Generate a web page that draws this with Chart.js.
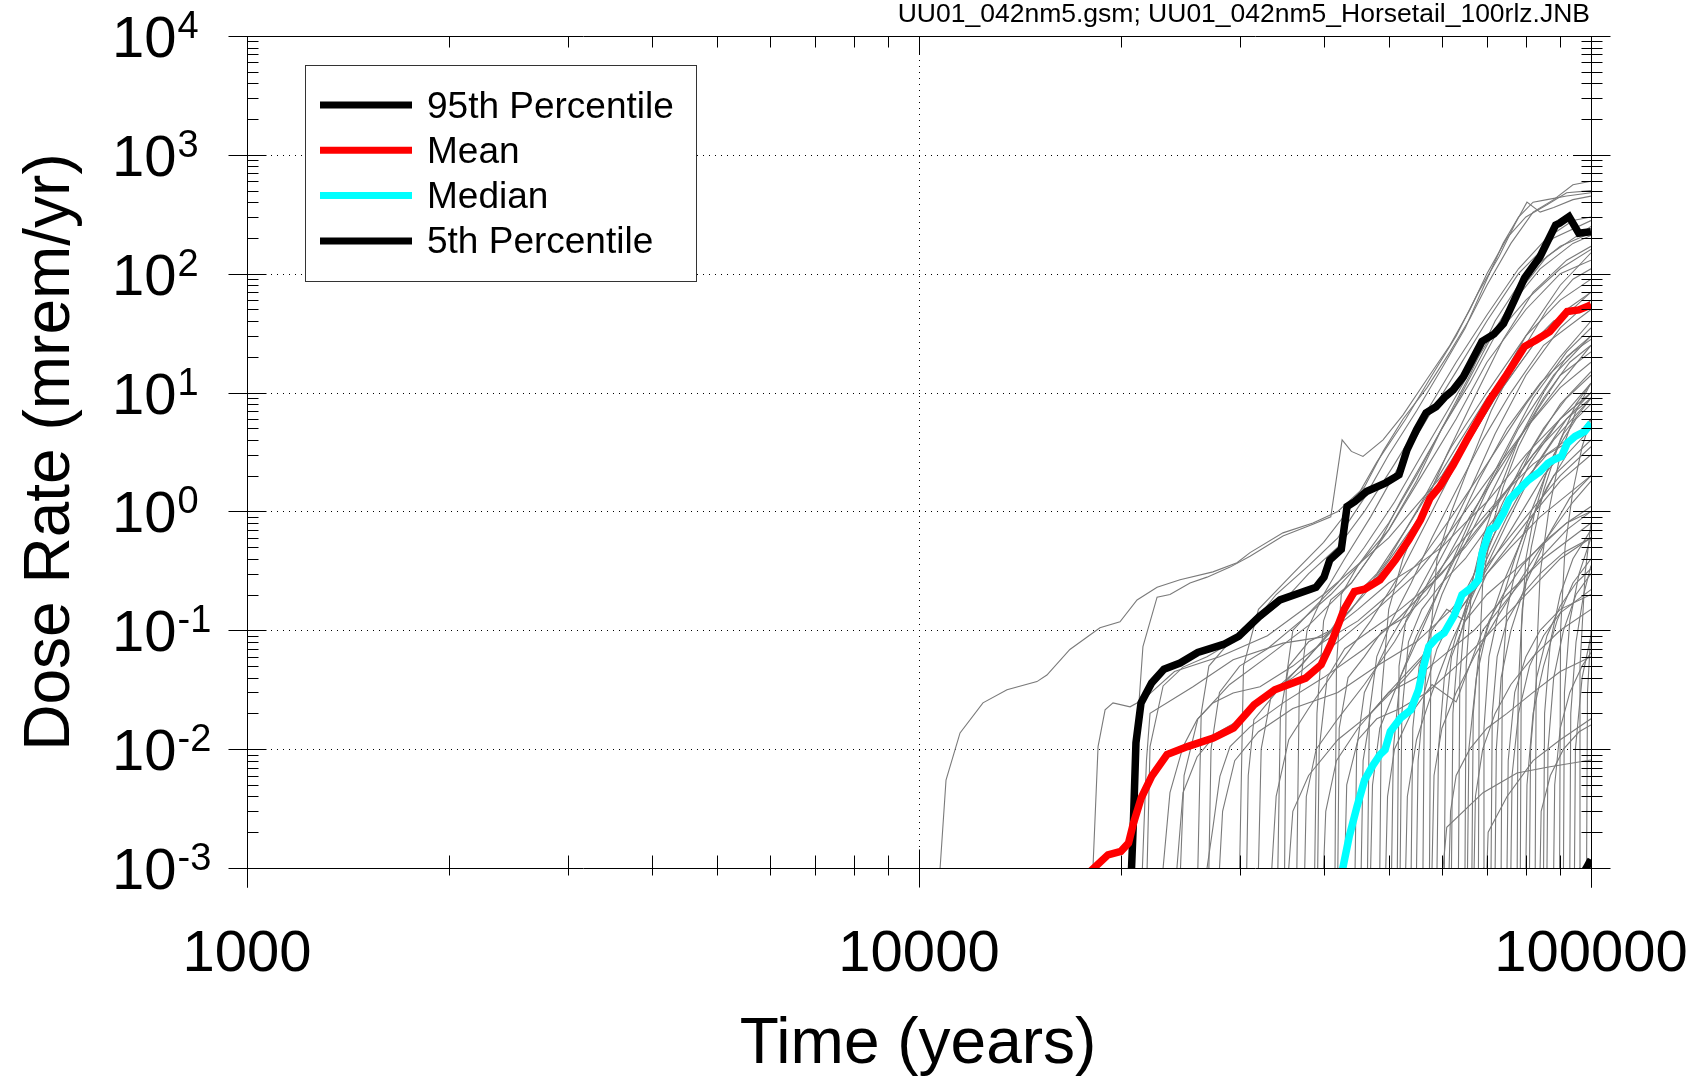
<!DOCTYPE html>
<html>
<head>
<meta charset="utf-8">
<title>Dose Rate Horsetail</title>
<script src="https://cdn.jsdelivr.net/npm/chart.js@4.4.1/dist/chart.umd.min.js"></script>
<style>
  html, body { margin: 0; padding: 0; background: #fff; }
  canvas { display: block; }
</style>
</head>
<body>
<canvas id="doseChart" width="1705" height="1084"></canvas>
<script>
const FONT = "'Liberation Sans', Arial, Helvetica, sans-serif";

const fileNote = 'UU01_042nm5.gsm; UU01_042nm5_Horsetail_100rlz.JNB';
const xTitle = 'Time (years)';
const yTitle = 'Dose Rate (mrem/yr)';
const xTickValues = [1000, 10000, 100000];
const xTickLabels = ['1000', '10000', '100000'];
const xGridValues = [10000];
const yExponents = [-3, -2, -1, 0, 1, 2, 3, 4];

const statLabels = ['95th Percentile', 'Mean', 'Median', '5th Percentile'];
const statColors = ['#000000', '#ff0000', '#00ffff', '#000000'];

// [time (yr), dose rate (mrem/yr)]
const p95 = [
  [20700, 0.0009], [20860, 0.0027], [21030, 0.0113], [21400, 0.0245], [22190, 0.036],
  [23150, 0.047], [24460, 0.053], [25990, 0.065], [28380, 0.076], [29920, 0.089],
  [32060, 0.13], [34450, 0.18], [38970, 0.23], [40060, 0.28], [40850, 0.39],
  [42500, 0.48], [43350, 1.1], [44520, 1.21], [46330, 1.47], [49500, 1.74],
  [51800, 2.03], [53230, 3.3], [55010, 4.86], [56820, 6.75], [58800, 7.6],
  [60770, 9.3], [62330, 10.5], [64570, 13.6], [68830, 27], [71690, 31],
  [74100, 38], [79650, 92], [83970, 139], [88580, 257], [89770, 266],
  [92750, 302], [95900, 219], [100000, 226]
];

const mean = [
  [18030, 0.00095], [19110, 0.00129], [19970, 0.00138], [20500, 0.00162], [20860, 0.0024],
  [21420, 0.0039], [22190, 0.0059], [23390, 0.009], [25090, 0.0105], [27410, 0.0124],
  [29390, 0.0151], [31530, 0.0236], [33840, 0.0316], [37610, 0.0396], [39660, 0.0513],
  [41070, 0.078], [42900, 0.149], [44460, 0.212], [46040, 0.222], [48530, 0.266],
  [51170, 0.392], [53580, 0.577], [55760, 0.85], [57600, 1.29], [59570, 1.62],
  [62380, 2.47], [65340, 4.0], [68430, 6.3], [70740, 8.7], [74580, 13.6],
  [79650, 24.4], [82890, 27.7], [86820, 32.6], [92170, 48], [95900, 49.6], [100000, 54.7]
];

const median = [
  [42680, 0.00097], [43680, 0.00185], [44860, 0.0033], [46040, 0.0055], [47270, 0.0072],
  [48530, 0.009], [49380, 0.0099], [50280, 0.0141], [52080, 0.0183], [53930, 0.0214],
  [55380, 0.0316], [56370, 0.05], [57360, 0.073], [58900, 0.086], [60470, 0.095],
  [62650, 0.135], [64270, 0.199], [66650, 0.233], [67980, 0.266], [68880, 0.446],
  [70740, 0.70], [72160, 0.746], [74100, 0.968], [75570, 1.25], [77610, 1.47],
  [80750, 1.84], [84020, 2.17], [86310, 2.55], [88010, 2.72], [90390, 2.9],
  [92170, 3.75], [94680, 4.27], [97800, 4.7], [100000, 5.53]
];

const p5 = [[97900, 0.00095], [100000, 0.00118]];

// individual realizations (gray), read approximately off the horsetail
const realizations = [
  [[10750, 0.001], [10970, 0.0055], [11510, 0.0137], [12450, 0.0245], [13520, 0.0316], [14980, 0.037], [15500, 0.042], [16770, 0.069], [18590, 0.105], [19910, 0.118], [21110, 0.18], [22610, 0.23], [24460, 0.266], [27380, 0.31], [29730, 0.37], [31090, 0.45], [34800, 0.66], [38570, 0.8], [42000, 1.0], [46000, 1.6], [49040, 3.2], [52520, 6.0], [57020, 11], [61680, 22], [66050, 42], [70000, 80], [76000, 180], [82000, 330], [88000, 420], [94000, 560], [100000, 600]],
  [[20800, 0.001], [20960, 0.0082], [21540, 0.073], [22610, 0.19], [23630, 0.2], [25310, 0.25], [26830, 0.28], [29030, 0.34], [31090, 0.42], [34800, 0.62], [38570, 0.78], [41000, 0.9], [42620, 4.0], [44000, 3.2], [45780, 2.9], [49040, 4.0], [52520, 6.5], [57020, 13], [61680, 25], [66050, 50], [70000, 100], [75000, 200], [80000, 300], [86000, 380], [92000, 480], [100000, 500]],
  [[21850, 0.001], [22070, 0.0105], [23080, 0.034], [24710, 0.049], [26830, 0.06], [29030, 0.078], [31090, 0.107], [34000, 0.2], [38000, 0.35], [42000, 0.6], [46000, 1.3], [50000, 3], [55000, 7], [60000, 16], [65000, 35], [70000, 90], [74000, 180], [78000, 300], [82000, 400], [86000, 420], [92000, 450], [100000, 480]],
  [[30000, 0.001], [30400, 0.05], [32000, 0.15], [36000, 0.3], [40000, 0.55], [44000, 1.1], [48000, 2.6], [53000, 6], [58000, 14], [63000, 30], [68000, 70], [73000, 140], [77000, 260], [80300, 400], [84000, 330], [88000, 360], [94000, 420], [100000, 450]],
  [[23080, 0.001], [23630, 0.0043], [24710, 0.0105], [25930, 0.0177], [27380, 0.0245], [29340, 0.0297], [32170, 0.0335], [36000, 0.05], [40000, 0.08], [45000, 0.12], [50000, 0.2], [56000, 0.4], [62000, 0.9], [70000, 2.5], [80000, 8], [90000, 20], [100000, 40]],
  [[24200, 0.001], [24710, 0.0043], [25930, 0.0086], [27760, 0.0137], [30040, 0.0177], [32170, 0.026], [36000, 0.04], [42000, 0.08], [48000, 0.15], [55000, 0.3], [62000, 0.7], [70000, 1.8], [80000, 5], [90000, 12], [100000, 25]],
  [[26830, 0.001], [27380, 0.0022], [28040, 0.0059], [29030, 0.0105], [31090, 0.0154], [35000, 0.025], [40000, 0.04], [46000, 0.07], [52000, 0.13], [60000, 0.3], [70000, 0.9], [80000, 2.5], [90000, 6], [100000, 12]],
  [[18150, 0.001], [18470, 0.0105], [18920, 0.0214], [19440, 0.0245], [20610, 0.0227], [21540, 0.026], [24000, 0.045], [28000, 0.06], [33000, 0.09], [40000, 0.2], [50000, 0.6], [60000, 2], [70000, 8], [80000, 30], [90000, 80], [100000, 150]],
  [[21500, 0.001], [21800, 0.008], [22070, 0.02], [25570, 0.0335], [29340, 0.0565], [34800, 0.078], [39920, 0.088], [45000, 0.15], [50000, 0.25], [55000, 0.35], [60000, 0.5], [65000, 0.8], [70000, 1.2], [80000, 3], [90000, 6], [100000, 10]],
  [[60230, 0.001], [61000, 0.0022], [69070, 0.0043], [77610, 0.0063], [86890, 0.0071], [100000, 0.0081]],
  [[30740, 0.001], [30900, 0.006], [31500, 0.0177], [34000, 0.03], [38000, 0.06], [44000, 0.15], [50000, 0.4], [56000, 1.2], [62000, 3.5], [70000, 10], [80000, 30], [90000, 60], [100000, 90]],
  [[33500, 0.001], [34000, 0.004], [35500, 0.012], [38000, 0.022], [42000, 0.05], [47000, 0.12], [52000, 0.3], [58000, 1.0], [64000, 3], [72000, 9], [82000, 25], [100000, 70]],
  [[38800, 0.001], [39100, 0.02], [40000, 0.12], [41000, 0.18], [44000, 0.25], [48000, 0.5], [52000, 1.2], [57000, 3], [63000, 8], [70000, 25], [78000, 70], [86000, 140], [100000, 250]],
  [[41600, 0.001], [41800, 0.05], [42500, 0.2], [45000, 0.35], [50000, 0.7], [55000, 1.8], [60000, 5], [66000, 14], [72000, 40], [80000, 100], [90000, 170], [100000, 220]],
  [[44560, 0.001], [44800, 0.01], [46000, 0.03], [50000, 0.08], [55000, 0.2], [60000, 0.5], [66000, 1.5], [72000, 4.5], [80000, 14], [90000, 35], [100000, 60]],
  [[28000, 0.001], [28300, 0.003], [29500, 0.008], [32000, 0.014], [36000, 0.022], [42000, 0.03], [48000, 0.05], [55000, 0.08], [62000, 0.15], [70000, 0.35], [80000, 0.9], [90000, 2], [100000, 3.5]],
  [[35500, 0.001], [36000, 0.003], [38000, 0.006], [42000, 0.012], [47000, 0.02], [53000, 0.04], [60000, 0.09], [68000, 0.25], [76000, 0.7], [85000, 2], [100000, 6]],
  [[47000, 0.001], [47300, 0.005], [48500, 0.015], [52000, 0.04], [56000, 0.1], [61000, 0.3], [67000, 1.0], [74000, 3], [82000, 9], [92000, 22], [100000, 35]],
  [[50500, 0.001], [50800, 0.01], [52000, 0.04], [55000, 0.09], [59000, 0.2], [64000, 0.5], [70000, 1.5], [78000, 5], [88000, 14], [100000, 30]],
  [[53000, 0.001], [53300, 0.004], [55000, 0.012], [58000, 0.03], [62000, 0.08], [68000, 0.25], [75000, 0.8], [83000, 2.5], [92000, 6], [100000, 10]],
  [[56230, 0.001], [56500, 0.03], [57500, 0.1], [60000, 0.2], [64000, 0.45], [70000, 1.2], [77000, 3.5], [85000, 9], [93000, 18], [100000, 25]],
  [[58000, 0.001], [58400, 0.006], [60000, 0.015], [63000, 0.03], [67000, 0.06], [72000, 0.12], [78000, 0.25], [86000, 0.6], [94000, 1.2], [100000, 1.8]],
  [[62000, 0.001], [62300, 0.02], [63500, 0.08], [66000, 0.18], [70000, 0.45], [75000, 1.2], [82000, 3.5], [90000, 8], [100000, 15]],
  [[64940, 0.001], [65200, 0.05], [66500, 0.25], [69000, 0.6], [73000, 1.5], [78000, 4], [85000, 10], [92000, 20], [100000, 30]],
  [[67000, 0.001], [67300, 0.004], [69000, 0.01], [72000, 0.02], [76000, 0.035], [82000, 0.06], [90000, 0.1], [100000, 0.15]],
  [[69070, 0.001], [69300, 0.015], [70500, 0.06], [73000, 0.15], [77000, 0.4], [82000, 1.1], [88000, 3], [95000, 6], [100000, 8]],
  [[72000, 0.001], [72300, 0.01], [73500, 0.04], [76000, 0.1], [80000, 0.25], [86000, 0.6], [93000, 1.3], [100000, 2]],
  [[77650, 0.001], [77900, 0.03], [79000, 0.15], [81500, 0.5], [85000, 1.5], [90000, 4], [95000, 8], [100000, 12]],
  [[80000, 0.001], [80300, 0.005], [82000, 0.02], [85000, 0.05], [89000, 0.12], [94000, 0.25], [100000, 0.4]],
  [[82600, 0.001], [82900, 0.05], [84000, 0.3], [86500, 1.0], [90000, 3], [95000, 7], [100000, 12]],
  [[86000, 0.001], [86300, 0.01], [88000, 0.04], [91000, 0.1], [95000, 0.2], [100000, 0.3]],
  [[89800, 0.001], [90100, 0.1], [91500, 0.5], [94000, 1.5], [97000, 3.5], [100000, 6]],
  [[93000, 0.001], [93300, 0.02], [95000, 0.08], [97500, 0.2], [100000, 0.35]],
  [[96000, 0.001], [96300, 0.05], [98000, 0.3], [100000, 0.8]],
  [[39200, 0.001], [39400, 0.01], [40500, 0.04], [43000, 0.07], [47000, 0.1], [52000, 0.15], [58000, 0.25], [65000, 0.5], [73000, 1.2], [82000, 3], [92000, 6], [100000, 9]],
  [[45500, 0.001], [45800, 0.008], [47000, 0.02], [50000, 0.03], [55000, 0.04], [60000, 0.06], [67000, 0.1], [75000, 0.2], [85000, 0.4], [100000, 0.8]],
  [[24500, 0.001], [24800, 0.006], [26000, 0.018], [29000, 0.035], [33000, 0.06], [38000, 0.11], [44000, 0.25], [50000, 0.7], [56000, 2], [63000, 6], [70000, 18], [80000, 50], [90000, 100], [100000, 130]],
  [[36500, 0.001], [36800, 0.03], [37800, 0.1], [40000, 0.2], [43000, 0.4], [47000, 0.9], [52000, 2.5], [57000, 6], [63000, 15], [70000, 40], [78000, 100], [88000, 200], [100000, 280]],
  [[48500, 0.001], [48800, 0.03], [50000, 0.15], [52500, 0.4], [56000, 1.0], [61000, 3], [67000, 9], [74000, 28], [82000, 70], [92000, 130], [100000, 170]],
  [[55000, 0.001], [55300, 0.008], [56500, 0.03], [59000, 0.07], [63000, 0.15], [68000, 0.35], [74000, 0.9], [81000, 2.5], [90000, 6], [100000, 10]],
  [[60500, 0.001], [60800, 0.02], [62000, 0.06], [65000, 0.12], [70000, 0.2], [76000, 0.3], [84000, 0.5], [92000, 0.8], [100000, 1.1]],
  [[75000, 0.001], [75300, 0.008], [77000, 0.03], [80000, 0.06], [84000, 0.1], [90000, 0.15], [100000, 0.2]],
  [[43000, 0.001], [43300, 0.005], [45000, 0.012], [48000, 0.018], [52000, 0.022], [57000, 0.03], [63000, 0.05], [70000, 0.09], [80000, 0.2], [90000, 0.4], [100000, 0.6]],
  [[52000, 0.001], [52300, 0.02], [53500, 0.08], [56000, 0.15], [60000, 0.25], [65000, 0.4], [71000, 0.8], [78000, 1.6], [86000, 3], [100000, 5]],
  [[84000, 0.001], [84300, 0.003], [87000, 0.006], [91000, 0.01], [96000, 0.014], [100000, 0.016]],
  [[70000, 0.001], [70300, 0.002], [75000, 0.004], [82000, 0.008], [90000, 0.012], [100000, 0.018]],
  [[32000, 0.001], [32300, 0.01], [33500, 0.03], [37000, 0.05], [41000, 0.1], [46000, 0.2], [51000, 0.45], [57000, 1.1], [64000, 3], [72000, 9], [82000, 25], [92000, 50], [100000, 70]],
  [[57500, 0.001], [57800, 0.1], [59000, 0.4], [62000, 1.0], [66000, 2.5], [71000, 7], [78000, 20], [86000, 50], [94000, 90], [100000, 110]],
  [[65500, 0.001], [65800, 0.01], [67500, 0.04], [70000, 0.1], [74000, 0.25], [80000, 0.7], [88000, 2], [100000, 4]],
  [[40000, 0.001], [40300, 0.003], [41800, 0.008], [45000, 0.015], [50000, 0.03], [56000, 0.06], [62000, 0.12], [70000, 0.3], [80000, 0.8], [90000, 1.8], [100000, 3]],
  [[27000, 0.001], [27200, 0.01], [28000, 0.03], [30000, 0.05], [33000, 0.07], [37000, 0.12], [41000, 0.2], [45000, 0.35], [50000, 0.8], [55000, 2], [60000, 5], [66000, 12], [72000, 30], [80000, 60], [90000, 110], [100000, 160]],
  [[34200, 0.001], [34500, 0.02], [35500, 0.05], [38000, 0.08], [41000, 0.1], [44000, 0.18], [48000, 0.3], [53000, 0.7], [58000, 1.6], [64000, 4], [70000, 9], [78000, 20], [88000, 40], [100000, 55]],
  [[37500, 0.001], [37700, 0.004], [39000, 0.01], [42000, 0.018], [46000, 0.035], [51000, 0.08], [56000, 0.2], [62000, 0.6], [68000, 1.8], [75000, 5], [84000, 12], [94000, 22], [100000, 28]],
  [[42000, 0.001], [42200, 0.015], [43500, 0.04], [46000, 0.06], [49000, 0.1], [53000, 0.13], [57000, 0.2], [61000, 0.4], [66000, 0.9], [72000, 2], [80000, 5], [90000, 11], [100000, 18]],
  [[46500, 0.001], [46800, 0.02], [48000, 0.06], [50500, 0.12], [54000, 0.25], [58000, 0.6], [63000, 1.5], [69000, 4], [76000, 10], [85000, 25], [100000, 50]],
  [[49500, 0.001], [49800, 0.004], [51000, 0.01], [54000, 0.02], [58000, 0.035], [63000, 0.025], [69000, 0.1], [76000, 0.2], [84000, 0.4], [92000, 0.7], [100000, 1]],
  [[51500, 0.001], [51800, 0.05], [53000, 0.12], [55500, 0.2], [59000, 0.3], [63000, 0.5], [68000, 0.8], [74000, 1.4], [82000, 2.5], [92000, 4], [100000, 5]],
  [[54000, 0.001], [54300, 0.015], [55500, 0.05], [58000, 0.1], [61000, 0.15], [65000, 0.12], [70000, 0.3], [76000, 0.5], [84000, 0.9], [100000, 2]],
  [[59000, 0.001], [59300, 0.01], [60500, 0.04], [63000, 0.09], [66000, 0.2], [70000, 0.4], [75000, 0.9], [81000, 2], [88000, 4], [100000, 9]],
  [[61500, 0.001], [61800, 0.003], [63000, 0.006], [66000, 0.01], [70000, 0.015], [75000, 0.02], [82000, 0.03], [90000, 0.045], [100000, 0.06]],
  [[63500, 0.001], [63800, 0.04], [65000, 0.15], [67000, 0.3], [70000, 0.6], [74000, 1.2], [79000, 2.5], [85000, 5], [92000, 9], [100000, 14]],
  [[66500, 0.001], [66800, 0.02], [68000, 0.06], [70500, 0.12], [74000, 0.2], [79000, 0.35], [85000, 0.55], [92000, 0.8], [100000, 1.0]],
  [[68000, 0.001], [68200, 0.06], [69000, 0.25], [71000, 0.7], [74000, 1.6], [78000, 3.5], [83000, 7], [90000, 14], [100000, 22]],
  [[71000, 0.001], [71300, 0.02], [72500, 0.06], [75000, 0.12], [79000, 0.2], [84000, 0.3], [91000, 0.45], [100000, 0.6]],
  [[73500, 0.001], [73800, 0.04], [75000, 0.15], [77500, 0.35], [81000, 0.8], [86000, 1.6], [92000, 3], [100000, 5]],
  [[76000, 0.001], [76300, 0.006], [78000, 0.02], [81000, 0.05], [85000, 0.09], [90000, 0.14], [100000, 0.22]],
  [[78500, 0.001], [78800, 0.1], [80000, 0.4], [82500, 1.0], [86000, 2.2], [91000, 4.5], [100000, 9]],
  [[81000, 0.001], [81300, 0.01], [83000, 0.04], [86000, 0.09], [90000, 0.16], [95000, 0.25], [100000, 0.33]],
  [[85000, 0.001], [85300, 0.02], [87000, 0.08], [90000, 0.2], [94000, 0.4], [100000, 0.7]],
  [[88000, 0.001], [88300, 0.005], [90000, 0.015], [93000, 0.03], [97000, 0.05], [100000, 0.065]],
  [[91000, 0.001], [91300, 0.03], [93000, 0.12], [96000, 0.3], [100000, 0.6]],
  [[94500, 0.001], [94800, 0.01], [97000, 0.04], [100000, 0.09]],
  [[98500, 0.001], [98800, 0.03], [100000, 0.1]],
  [[35000, 0.001], [35200, 0.04], [36000, 0.1], [38500, 0.15], [42000, 0.25], [46000, 0.5], [51000, 1.2], [56000, 3], [62000, 8], [68000, 20], [75000, 50], [84000, 110], [94000, 180], [100000, 210]],
  [[26000, 0.001], [26300, 0.02], [27000, 0.05], [29000, 0.08], [32000, 0.12], [35000, 0.18], [38000, 0.3], [42000, 0.5], [46000, 1.0], [51000, 2.5], [57000, 7], [63000, 18], [70000, 45], [78000, 110], [86000, 200], [94000, 280], [100000, 300]]
];

const toPoints = arr => arr.map(([t, v]) => ({ x: t, y: v }));

const statSeries = [p95, mean, median, p5];
const statOrder = [3, 2, 1, 3];

const datasets = statSeries.map((s, i) => ({
  label: statLabels[i],
  data: toPoints(s),
  borderColor: statColors[i],
  borderWidth: 7.5,
  order: statOrder[i]
}));

realizations.forEach((r, i) => {
  datasets.push({
    label: 'rlz' + (i + 1),
    data: toPoints(r),
    borderColor: '#7a7a7a',
    borderWidth: 1.1,
    order: 10
  });
});

function seg(ctx, x1, y1, x2, y2) {
  ctx.beginPath();
  ctx.moveTo(x1, y1);
  ctx.lineTo(x2, y2);
  ctx.stroke();
}

const frameAndLabels = {
  id: 'frameAndLabels',
  beforeDatasetsDraw(chart) {
    const { ctx, chartArea: a, scales: { x, y } } = chart;
    ctx.save();
    ctx.strokeStyle = '#000';
    ctx.lineWidth = 1;
    ctx.setLineDash([1, 5]);
    yExponents.slice(1, -1).forEach(e => {
      const py = Math.round(y.getPixelForValue(Math.pow(10, e))) + 0.5;
      seg(ctx, a.left, py, a.right, py);
    });
    xGridValues.forEach(v => {
      const px = Math.round(x.getPixelForValue(v)) + 0.5;
      seg(ctx, px, a.top, px, a.bottom);
    });
    ctx.restore();
  },
  afterDatasetsDraw(chart) {
    const { ctx, chartArea: a, scales: { x, y } } = chart;
    const L = Math.round(a.left) + 0.5, R = Math.round(a.right) + 0.5;
    const T = Math.round(a.top) + 0.5, B = Math.round(a.bottom) + 0.5;
    ctx.save();
    ctx.strokeStyle = '#000';
    ctx.lineWidth = 1;

    // frame
    seg(ctx, L, T, R, T);
    seg(ctx, L, B, R, B);
    seg(ctx, L, T, L, B + 19);
    seg(ctx, R, T, R, B + 19);

    // y ticks
    yExponents.forEach((e, idx) => {
      const py = Math.round(y.getPixelForValue(Math.pow(10, e))) + 0.5;
      seg(ctx, L - 19, py, L + 19, py);
      seg(ctx, R - 18, py, R + 19, py);
      if (idx < yExponents.length - 1) {
        for (let k = 2; k <= 9; k++) {
          const my = Math.round(y.getPixelForValue(k * Math.pow(10, e))) + 0.5;
          seg(ctx, L, my, L + 11, my);
          seg(ctx, R - 10, my, R + 11, my);
        }
      }
    });

    // x ticks
    xTickValues.forEach((v, idx) => {
      const px = Math.round(x.getPixelForValue(v)) + 0.5;
      seg(ctx, px, B - 19, px, B + 19);
      seg(ctx, px, T, px, T + 18);
      if (idx < xTickValues.length - 1) {
        for (let k = 2; k <= 9; k++) {
          const mx = Math.round(x.getPixelForValue(k * v)) + 0.5;
          seg(ctx, mx, B - 13, mx, B + 7);
          seg(ctx, mx, T, mx, T + 11);
        }
      }
    });

    // y tick labels: 10 with superscript exponent
    ctx.fillStyle = '#000';
    ctx.textAlign = 'left';
    ctx.textBaseline = 'alphabetic';
    yExponents.forEach(e => {
      const py = y.getPixelForValue(Math.pow(10, e));
      ctx.font = '58px ' + FONT;
      ctx.fillText('10', 112, py + 21);
      const w = ctx.measureText('10').width;
      ctx.font = '38px ' + FONT;
      ctx.fillText(String(e), 112 + w + 1, py + 2);
    });

    // x tick labels
    ctx.font = '58px ' + FONT;
    ctx.textAlign = 'center';
    xTickValues.forEach((v, i) => {
      ctx.fillText(xTickLabels[i], x.getPixelForValue(v), 971);
    });

    // axis titles
    ctx.font = '64px ' + FONT;
    ctx.fillText(xTitle, (a.left + a.right) / 2 - 1, 1063);
    ctx.save();
    ctx.translate(69, (a.top + a.bottom) / 2);
    ctx.rotate(-Math.PI / 2);
    ctx.fillText(yTitle, 0, 0);
    ctx.restore();

    // file note
    ctx.font = '26.5px ' + FONT;
    ctx.textAlign = 'right';
    ctx.fillText(fileNote, 1590, 22);

    // legend
    const box = { left: 305.5, top: 65.5, width: 391, height: 216 };
    ctx.fillStyle = '#fff';
    ctx.fillRect(box.left, box.top, box.width, box.height);
    ctx.strokeStyle = '#333';
    ctx.strokeRect(box.left, box.top, box.width, box.height);
    ctx.font = '37px ' + FONT;
    ctx.textAlign = 'left';
    statLabels.forEach((label, i) => {
      const cy = 105 + i * 45.3;
      ctx.strokeStyle = statColors[i];
      ctx.lineWidth = 7;
      seg(ctx, 320, cy, 412, cy);
      ctx.fillStyle = '#000';
      ctx.fillText(label, 427, cy + 12.5);
    });
    ctx.restore();
  }
};

new Chart(document.getElementById('doseChart').getContext('2d'), {
  type: 'line',
  data: { datasets },
  options: {
    responsive: false,
    animation: false,
    parsing: false,
    layout: { padding: { left: 247, top: 36, right: 114, bottom: 216 } },
    elements: {
      point: { radius: 0, hoverRadius: 0 },
      line: { tension: 0, fill: false }
    },
    scales: {
      x: { type: 'logarithmic', min: 1000, max: 100000, display: false },
      y: { type: 'logarithmic', min: 0.001, max: 10000, display: false }
    },
    plugins: {
      legend: { display: false },
      tooltip: { enabled: false }
    },
    events: []
  },
  plugins: [frameAndLabels]
});
</script>
</body>
</html>
